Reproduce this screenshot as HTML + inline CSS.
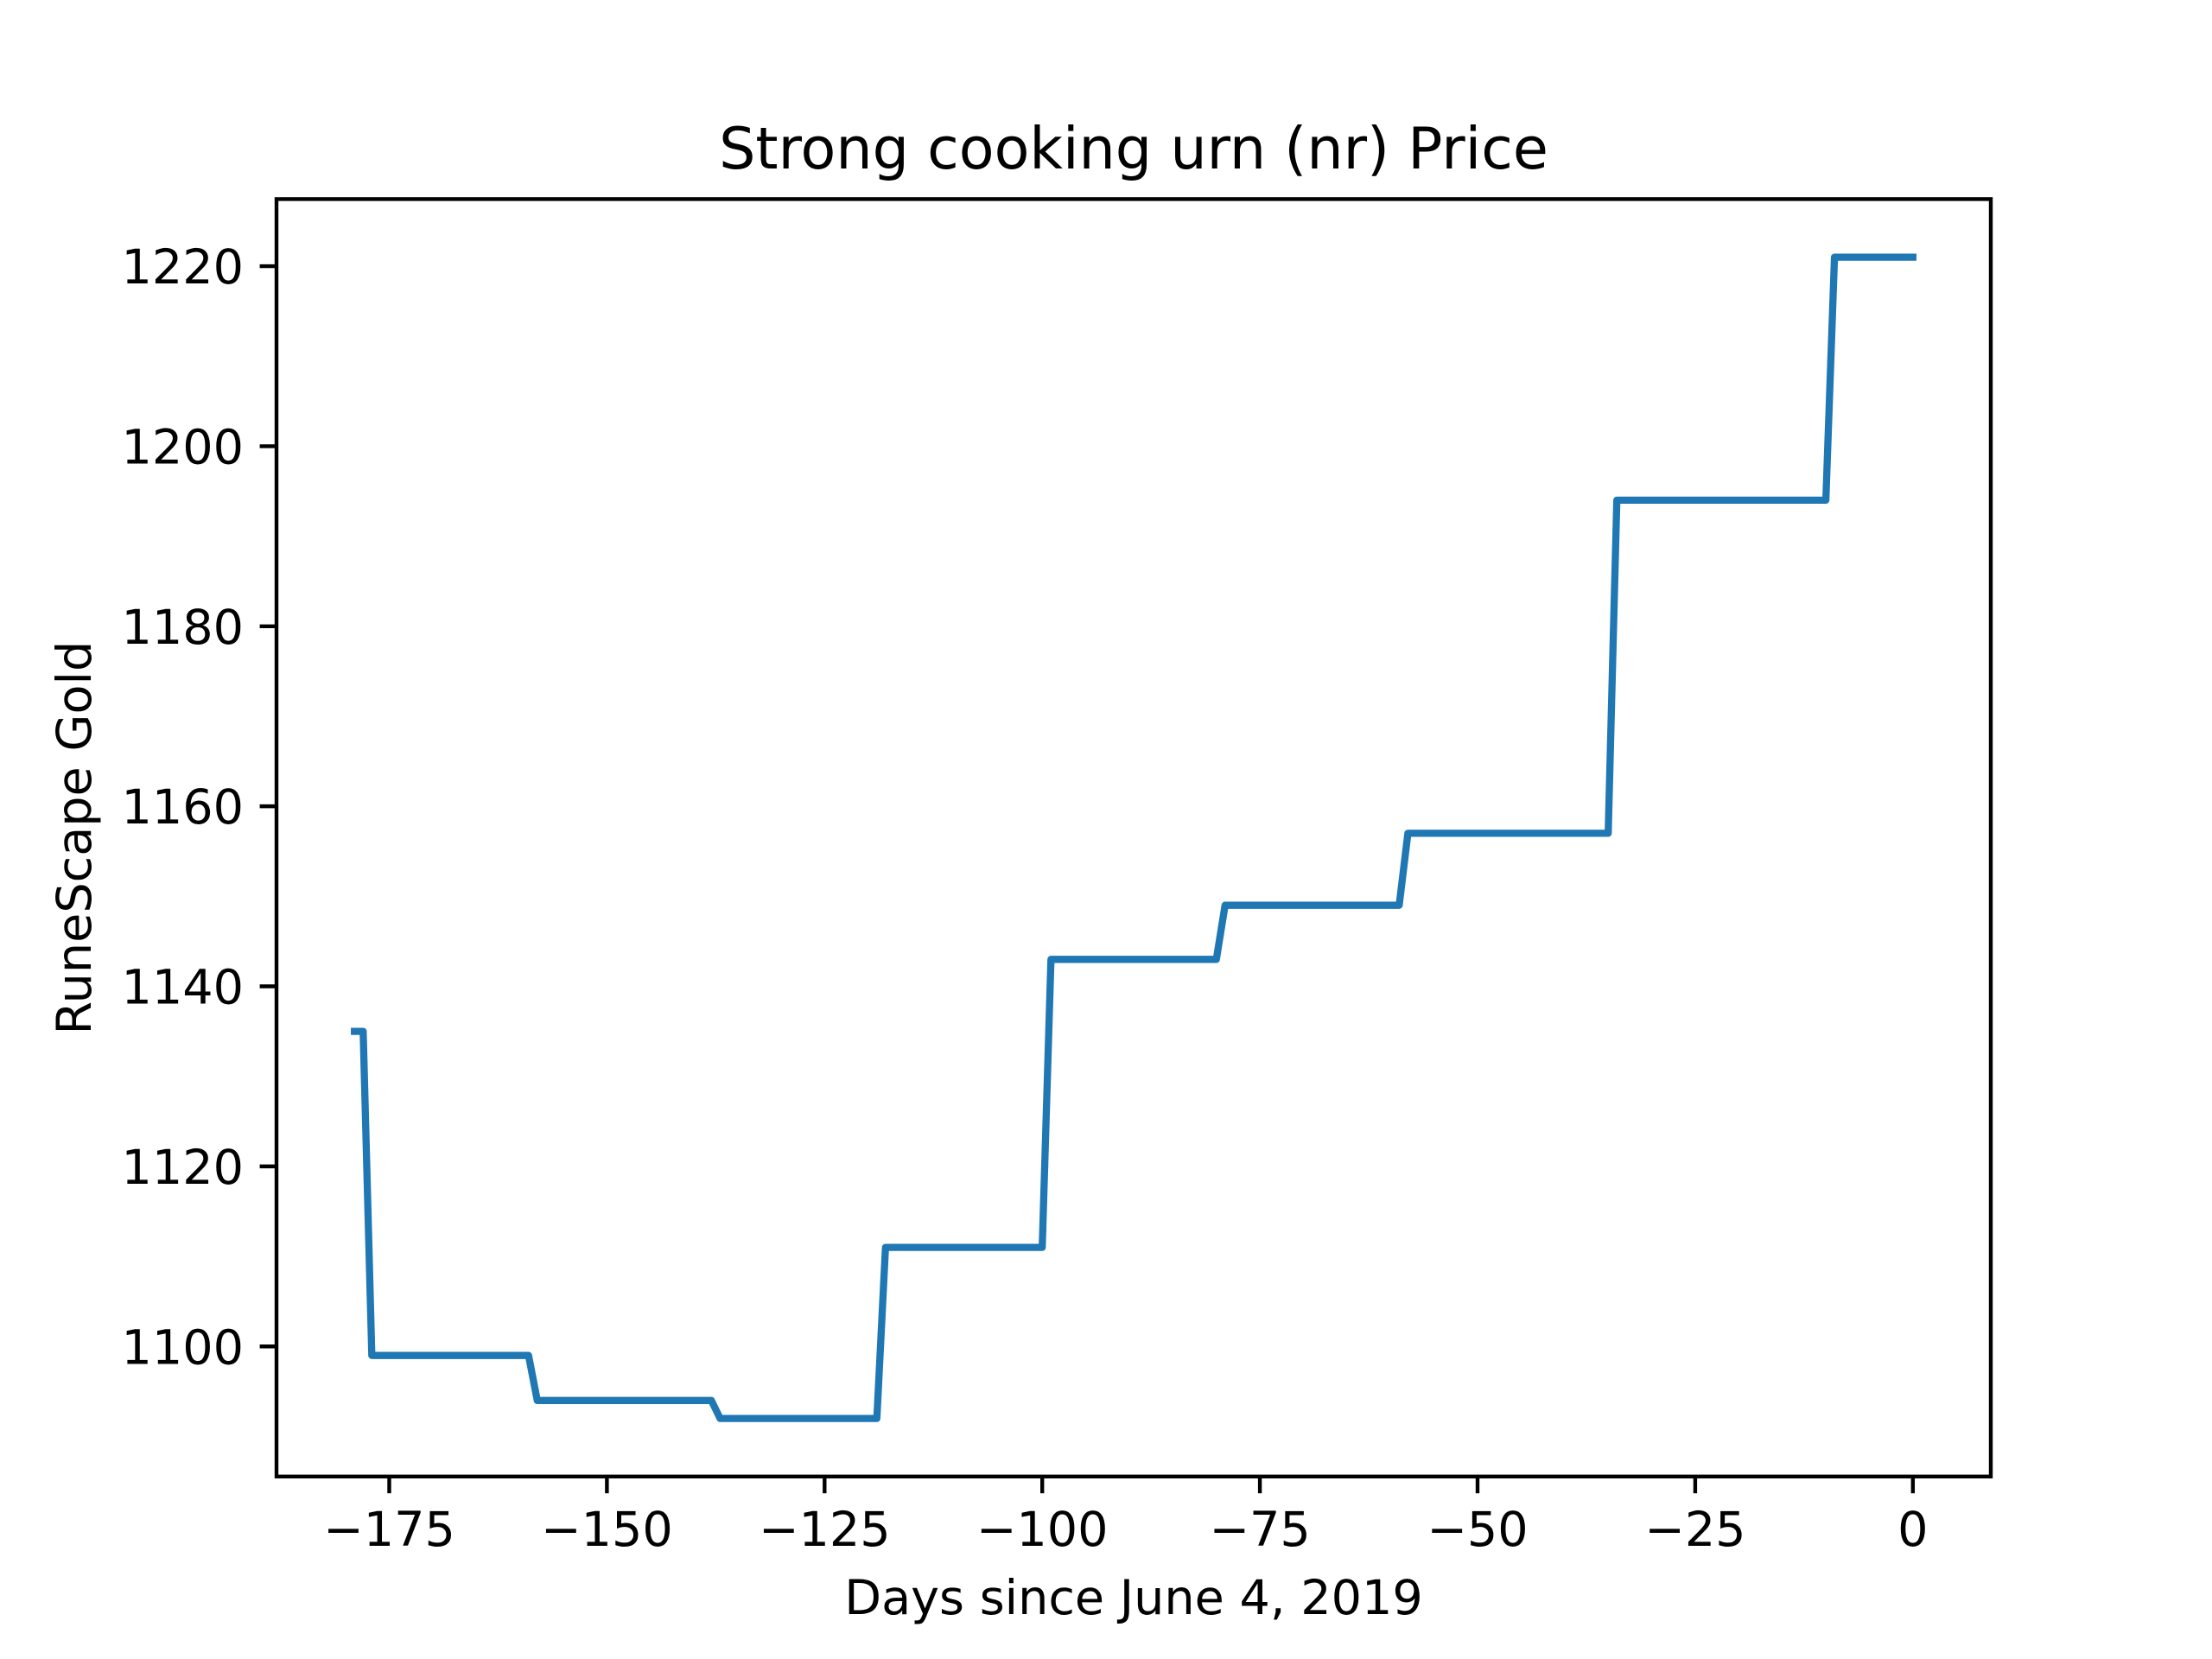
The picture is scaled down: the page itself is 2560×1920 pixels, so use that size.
<!DOCTYPE html>
<html><head><meta charset="utf-8"><style>
html,body{margin:0;padding:0;background:#fff;}
svg{display:block;font-family:"DejaVu Sans","Liberation Sans",sans-serif;}
</style></head><body>
<svg id="chart" width="2560" height="1920" viewBox="0 0 2560 1920">
<rect width="2560" height="1920" fill="#fff"/>
<text x="1312" y="195" font-size="66.7" text-anchor="middle">Strong cooking urn (nr) Price</text>
<text x="1312" y="1868" font-size="55.6" text-anchor="middle">Days since June 4, 2019</text>
<text transform="translate(105,969.6) rotate(-90)" font-size="55.6" text-anchor="middle">RuneScape Gold</text>
<g id="xt"></g>
<g id="yt"></g>
<polyline id="line" fill="none" stroke="#1f77b4" stroke-width="8.3" stroke-linejoin="round" stroke-linecap="square"/>
<rect x="320" y="230.4" width="1984" height="1478.4" fill="none" stroke="#000" stroke-width="4.4"/>
</svg>
<script>
const days = [-179,-178,-177,-159,-158,-138,-137,-119,-118,-100,-99,-80,-79,-59,-58,-35,-34,-10,-9,0];
const prices = [1135,1135,1099,1099,1094,1094,1092,1092,1111,1111,1143,1143,1149,1149,1157,1157,1194,1194,1221,1221];
const xTicks = [-175,-150,-125,-100,-75,-50,-25,0];
const yTicks = [1100,1120,1140,1160,1180,1200,1220];

const L=320,R=2304,T=230.4,B=1708.8;
const xmin=Math.min(...days),xmax=Math.max(...days),xp=(xmax-xmin)*0.05;
const ymin=Math.min(...prices),ymax=Math.max(...prices),yp=(ymax-ymin)*0.05;
const x0=xmin-xp,x1=xmax+xp,y0=ymin-yp,y1=ymax+yp;
const sx=v=>L+(v-x0)/(x1-x0)*(R-L);
const sy=v=>B-(v-y0)/(y1-y0)*(B-T);
const NS="http://www.w3.org/2000/svg";
const line=document.getElementById('line');
line.setAttribute('points',days.map((d,i)=>sx(d).toFixed(1)+','+sy(prices[i]).toFixed(1)).join(' '));
const fmt=v=>v<0?'\u2212'+Math.abs(v):String(v);
const xg=document.getElementById('xt');
xTicks.forEach(v=>{
  if(v<x0||v>x1)return;
  const l=document.createElementNS(NS,'line');
  
  
  l.setAttribute('x1',sx(v));l.setAttribute('x2',sx(v));l.setAttribute('y1',B);l.setAttribute('y2',B+19.4);
  l.setAttribute('stroke','#000');l.setAttribute('stroke-width','4.4');xg.appendChild(l);
  const t=document.createElementNS(NS,'text');
  
  
  t.setAttribute('x',sx(v));t.setAttribute('y',B+80);t.setAttribute('font-size','55.6');t.setAttribute('text-anchor','middle');
  t.textContent=fmt(v);xg.appendChild(t);
});
const yg=document.getElementById('yt');
yTicks.forEach(v=>{
  if(v<y0||v>y1)return;
  const l=document.createElementNS(NS,'line');
  
  
  l.setAttribute('x1',L-19.4);l.setAttribute('x2',L);l.setAttribute('y1',sy(v));l.setAttribute('y2',sy(v));
  l.setAttribute('stroke','#000');l.setAttribute('stroke-width','4.4');yg.appendChild(l);
  const t=document.createElementNS(NS,'text');
  
  
  t.setAttribute('x',L-38);t.setAttribute('y',sy(v)+20);t.setAttribute('font-size','55.6');t.setAttribute('text-anchor','end');
  t.textContent=fmt(v);yg.appendChild(t);
});
</script>
</body></html>
